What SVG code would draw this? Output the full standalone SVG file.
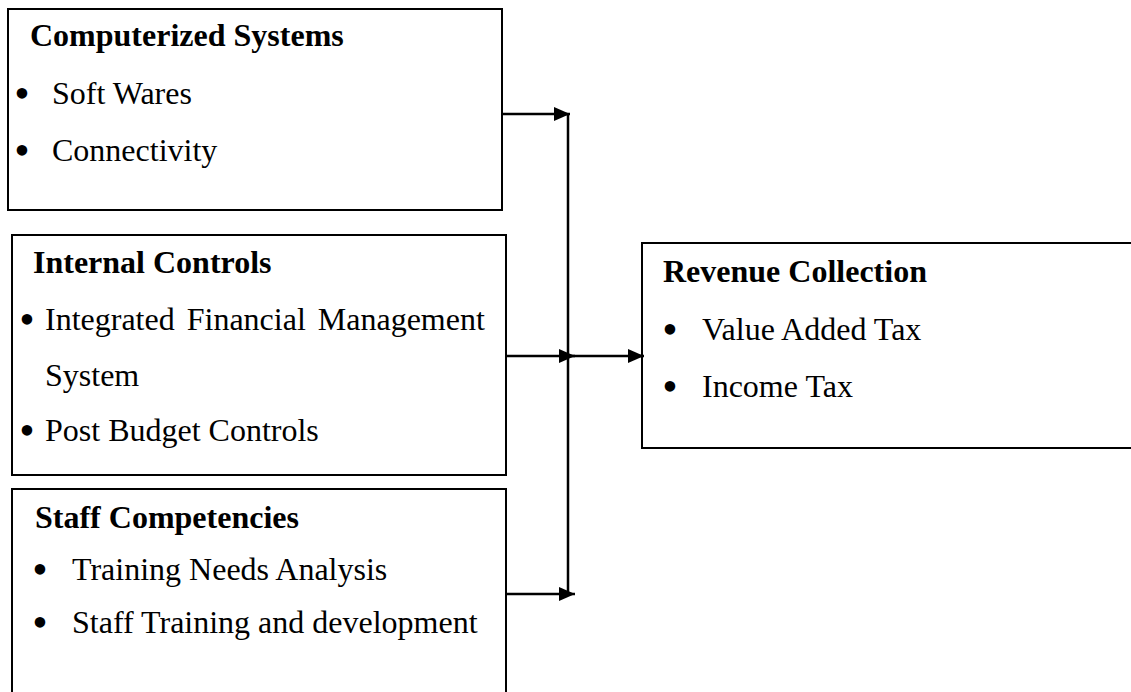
<svg xmlns="http://www.w3.org/2000/svg" width="1131" height="692" viewBox="0 0 1131 692">
  <style>
    .box { fill: #ffffff; stroke: #000000; stroke-width: 2; }
    .hd { font-family: "Liberation Serif", "Times New Roman", serif; font-size: 32px; font-weight: bold; fill: #000000; }
    .tx { font-family: "Liberation Serif", "Times New Roman", serif; font-size: 32px; fill: #000000; }
    .bl { font-family: "Liberation Serif", "Times New Roman", serif; font-size: 44px; fill: #000000; text-anchor: middle; }
    .wire { fill: none; stroke: #000000; stroke-width: 2.5; }
  </style>
  <defs>
    <marker id="arrow" markerUnits="userSpaceOnUse" markerWidth="16" markerHeight="14" refX="16" refY="7" orient="auto">
      <path d="M0,0 L16,7 L0,14 z" fill="#000000"/>
    </marker>
  </defs>
  <rect x="0" y="0" width="1131" height="692" fill="#ffffff"/>

  <!-- Computerized Systems -->
  <g id="computerized-systems">
    <rect class="box" x="8" y="9" width="494" height="201"/>
    <text class="hd" x="30" y="46">Computerized Systems</text>
    <text class="bl" x="22" y="108">•</text>
    <text class="tx" x="52" y="104">Soft Wares</text>
    <text class="bl" x="22" y="165">•</text>
    <text class="tx" x="52" y="161">Connectivity</text>
  </g>

  <!-- Internal Controls -->
  <g id="internal-controls">
    <rect class="box" x="12" y="235" width="494" height="240"/>
    <text class="hd" x="33" y="273">Internal Controls</text>
    <text class="bl" x="27" y="334">•</text>
    <text class="tx" x="45" y="330" word-spacing="4">Integrated Financial Management</text>
    <text class="tx" x="45" y="386">System</text>
    <text class="bl" x="27" y="445">•</text>
    <text class="tx" x="45" y="441">Post Budget Controls</text>
  </g>

  <!-- Staff Competencies -->
  <g id="staff-competencies">
    <rect class="box" x="12" y="489" width="494" height="220"/>
    <text class="hd" x="35" y="528">Staff Competencies</text>
    <text class="bl" x="40" y="584">•</text>
    <text class="tx" x="72" y="580">Training Needs Analysis</text>
    <text class="bl" x="40" y="637">•</text>
    <text class="tx" x="72" y="633">Staff Training and development</text>
  </g>

  <!-- Revenue Collection -->
  <g id="revenue-collection">
    <rect class="box" x="642" y="243" width="500" height="205"/>
    <text class="hd" x="663" y="282">Revenue Collection</text>
    <text class="bl" x="670" y="344">•</text>
    <text class="tx" x="702" y="340">Value Added Tax</text>
    <text class="bl" x="670" y="401">•</text>
    <text class="tx" x="702" y="397">Income Tax</text>
  </g>

  <!-- Connectors -->
  <g id="connectors">
    <line class="wire" x1="502" y1="114" x2="570" y2="114" marker-end="url(#arrow)"/>
    <line class="wire" x1="506" y1="356" x2="575" y2="356" marker-end="url(#arrow)"/>
    <line class="wire" x1="506" y1="594" x2="575" y2="594" marker-end="url(#arrow)"/>
    <line class="wire" x1="568" y1="114" x2="568" y2="594"/>
    <line class="wire" x1="568" y1="356" x2="644" y2="356" marker-end="url(#arrow)"/>
  </g>
</svg>
